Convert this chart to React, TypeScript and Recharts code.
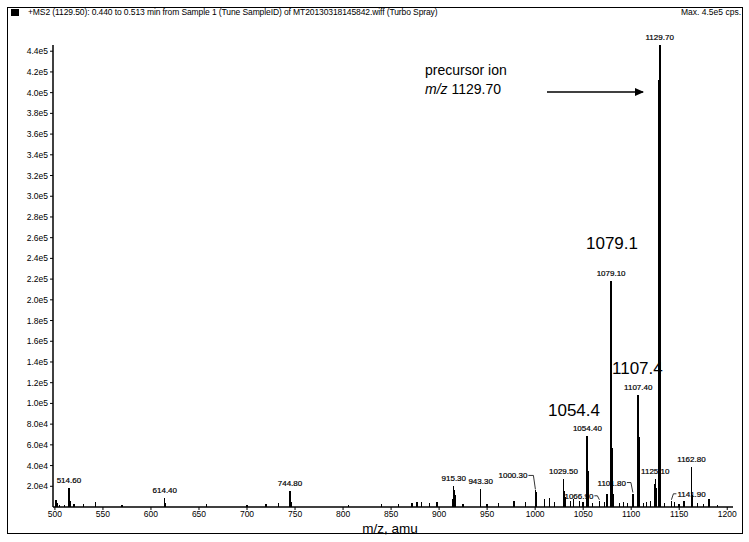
import React from "react";
import { Bar, BarChart, LabelList, XAxis, YAxis } from "recharts";

// m/z positions and intensities (cps) of the sticks
const PEAK_MZ = [
  501, 502, 505, 510, 514.6, 515.6, 520, 530, 542, 570, 614.4, 615.4, 658, 700, 720, 733,
  744.8, 745.8, 806, 840, 858, 872, 877, 882, 890, 898, 914.5, 915.3, 916.3, 917.3, 925,
  943.3, 950, 962, 978, 990, 1000.3, 1001.3, 1010, 1015, 1020, 1029.5, 1030.5, 1031.4,
  1037, 1040, 1046, 1050, 1053.5, 1054.4, 1055.4, 1060, 1066.9, 1072, 1075, 1078.2,
  1079.1, 1080.1, 1081.1, 1088, 1092, 1096, 1101.8, 1106.5, 1107.4, 1108.4, 1113, 1116,
  1120, 1124.1, 1125.1, 1126.1, 1128.6, 1129.2, 1129.7, 1130.6, 1135, 1141.9, 1145, 1150,
  1155, 1162.8, 1163.8, 1169, 1175, 1181, 1190,
];
const PEAK_INT = [
  7000, 4000, 2000, 2000, 18000, 6000, 3000, 3000, 5000, 2000, 9000, 4000, 3000, 2000, 3000, 4000,
  15000, 5000, 2000, 3000, 3000, 4000, 5000, 5000, 4000, 5000, 8000, 20000, 16000, 12000, 3000,
  17000, 3000, 4000, 6000, 5000, 16000, 14000, 8000, 9000, 5000, 27000, 15000, 10000,
  6000, 8000, 6000, 5000, 12000, 69000, 35000, 4000, 6000, 5000, 13000, 20000,
  218000, 57000, 13000, 4000, 5000, 4000, 13000, 32000, 108000, 68000, 4000, 5000,
  6000, 22000, 27000, 18000, 213000, 412000, 446000, 30000, 4000, 6000, 5000, 3000,
  6000, 39000, 12000, 4000, 3000, 8000, 2000,
];

const LABELED_MZ = [514.6, 614.4, 744.8, 915.3, 943.3, 1000.3, 1029.5, 1054.4, 1066.9, 1079.1, 1101.8, 1107.4, 1125.1, 1129.7, 1141.9, 1162.8];
const LABEL_TEXT = ["514.60", "614.40", "744.80", "915.30", "943.30", "1000.30", "1029.50", "1054.40", "1066.90", "1079.10", "1101.80", "1107.40", "1125.10", "1129.70", "1141.90", "1162.80"];

const X_TICKS = [500, 550, 600, 650, 700, 750, 800, 850, 900, 950, 1000, 1050, 1100, 1150, 1200];
const Y_TICKS = [
  20000, 40000, 60000, 80000, 100000, 120000, 140000, 160000, 180000, 200000, 220000,
  240000, 260000, 280000, 300000, 320000, 340000, 360000, 380000, 400000, 420000, 440000,
];

const HEADER = "+MS2 (1129.50): 0.440 to 0.513 min from Sample 1 (Tune SampleID) of MT20130318145842.wiff (Turbo Spray)";
const MAX_TEXT = "Max. 4.5e5 cps.";

// labels pushed aside with a short leader line (dx, dy from peak top)
const LEADERS: Record<string, { dx: number; dy: number }> = {
  "1000.30": { dx: -8, dy: -12 },
  "1066.90": { dx: -6, dy: -2 },
  "1101.80": { dx: -7, dy: -8 },
  "1141.90": { dx: 6, dy: -4 },
};

const data = PEAK_MZ.map((mz, i) => {
  const k = LABELED_MZ.indexOf(mz);
  return { mz, intensity: PEAK_INT[i], label: k >= 0 ? LABEL_TEXT[k] : "" };
});

const fmtY = (v: number) =>
  v < 100000 ? `${(v / 10000).toFixed(1)}e4` : `${(v / 100000).toFixed(1)}e5`;

const FONT = "'Liberation Sans', Arial, sans-serif";

function Stick(props: any) {
  const { x, y, width, height } = props;
  const cx = x + width / 2;
  const w = props.intensity > 50000 ? 2 : 1.4;
  return (
    <rect
      x={cx - w / 2}
      y={y}
      width={w}
      height={Math.max(height, 0)}
      fill="#000"
      shapeRendering="crispEdges"
    />
  );
}

function PeakLabel(props: any) {
  const { x, y, width, value } = props;
  if (!value) return null;
  const cx = x + width / 2;
  const lead = LEADERS[value];
  if (lead) {
    const tx = cx + lead.dx;
    const ty = y + lead.dy;
    const left = lead.dx < 0;
    const ex = left ? tx + 1 : tx - 1;
    return (
      <g>
        <polyline
          points={`${ex},${ty - 3} ${left ? cx - 2 : cx + 2},${ty - 3} ${cx},${y - 1}`}
          fill="none"
          stroke="#000"
          strokeWidth={0.8}
        />
        <text
          x={tx}
          y={ty}
          textAnchor={left ? "end" : "start"}
          fontSize={8}
          fontFamily={FONT}
          fill="#000"
          stroke="#000"
          strokeWidth={0.2}
        >
          {value}
        </text>
      </g>
    );
  }
  return (
    <text
      x={cx}
      y={y - 5}
      textAnchor="middle"
      fontSize={8}
      fontFamily={FONT}
      fill="#000"
      stroke="#000"
      strokeWidth={0.2}
    >
      {value}
    </text>
  );
}

export default function App() {
  return (
    <div
      style={{
        position: "absolute",
        left: 0,
        top: 0,
        width: 749,
        height: 542,
        background: "#fff",
        fontFamily: FONT,
        overflow: "hidden",
      }}
    >
      <div
        style={{
          position: "absolute",
          left: 7,
          top: 7,
          width: 734,
          height: 525,
          border: "1.5px solid #000",
        }}
      />
      <div style={{ position: "absolute", left: 11, top: 9, width: 8, height: 7, background: "#000" }} />
      <div style={{ position: "absolute", left: 28, top: 7, fontSize: 8.5, color: "#000", whiteSpace: "nowrap", letterSpacing: -0.1 }}>
        {HEADER}
      </div>
      <div style={{ position: "absolute", right: 8, top: 7, fontSize: 8.5, color: "#000", whiteSpace: "nowrap" }}>
        {MAX_TEXT}
      </div>

      <div style={{ position: "absolute", left: 0, top: 0 }}>
        <BarChart
          width={749}
          height={542}
          data={data}
          margin={{ top: 45, right: 16, left: 8, bottom: 5 }}
          barGap={0}
        >
          <XAxis
            dataKey="mz"
            type="number"
            domain={[498, 1206]}
            ticks={X_TICKS}
            allowDataOverflow
            height={30}
            tickSize={3}
            tickMargin={1}
            tick={{ fill: "#000", fontSize: 8.5, fontFamily: FONT }}
            axisLine={{ stroke: "#000", strokeWidth: 1.5 }}
            tickLine={{ stroke: "#000" }}
          />
          <YAxis
            type="number"
            domain={[0, 446000]}
            ticks={Y_TICKS}
            width={45}
            tickSize={3}
            tickMargin={2}
            tickFormatter={fmtY}
            tick={{ fill: "#000", fontSize: 8.5, fontFamily: FONT }}
            axisLine={{ stroke: "#000", strokeWidth: 1.5 }}
            tickLine={{ stroke: "#000" }}
          />
          <Bar dataKey="intensity" fill="#000" barSize={2} shape={Stick} isAnimationActive={false}>
            <LabelList dataKey="label" content={PeakLabel} />
          </Bar>
        </BarChart>
      </div>

      <svg
        width={749}
        height={542}
        style={{ position: "absolute", left: 0, top: 0, pointerEvents: "none" }}
      >
        <defs>
          <marker id="arrow" markerWidth="9" markerHeight="8" refX="8" refY="4" orient="auto" markerUnits="userSpaceOnUse">
            <path d="M0,0 L9,4 L0,8 Z" fill="#000" />
          </marker>
        </defs>
        <text x={425} y={75} fontSize={14} fontFamily={FONT} fill="#000">
          precursor ion
        </text>
        <text x={425} y={94} fontSize={14} fontFamily={FONT} fill="#000">
          <tspan fontStyle="italic">m/z</tspan> 1129.70
        </text>
        <line x1={547} y1={92} x2={643} y2={92} stroke="#000" strokeWidth={1.3} markerEnd="url(#arrow)" />
        <text x={586} y={249} fontSize={17} fontFamily={FONT} fill="#000">
          1079.1
        </text>
        <text x={612} y={374} fontSize={17} fontFamily={FONT} fill="#000">
          1107.4
        </text>
        <text x={548} y={416} fontSize={17} fontFamily={FONT} fill="#000">
          1054.4
        </text>
        <text x={390} y={533} fontSize={13.5} fontFamily={FONT} fill="#000" textAnchor="middle">
          m/z, amu
        </text>
      </svg>
    </div>
  );
}
